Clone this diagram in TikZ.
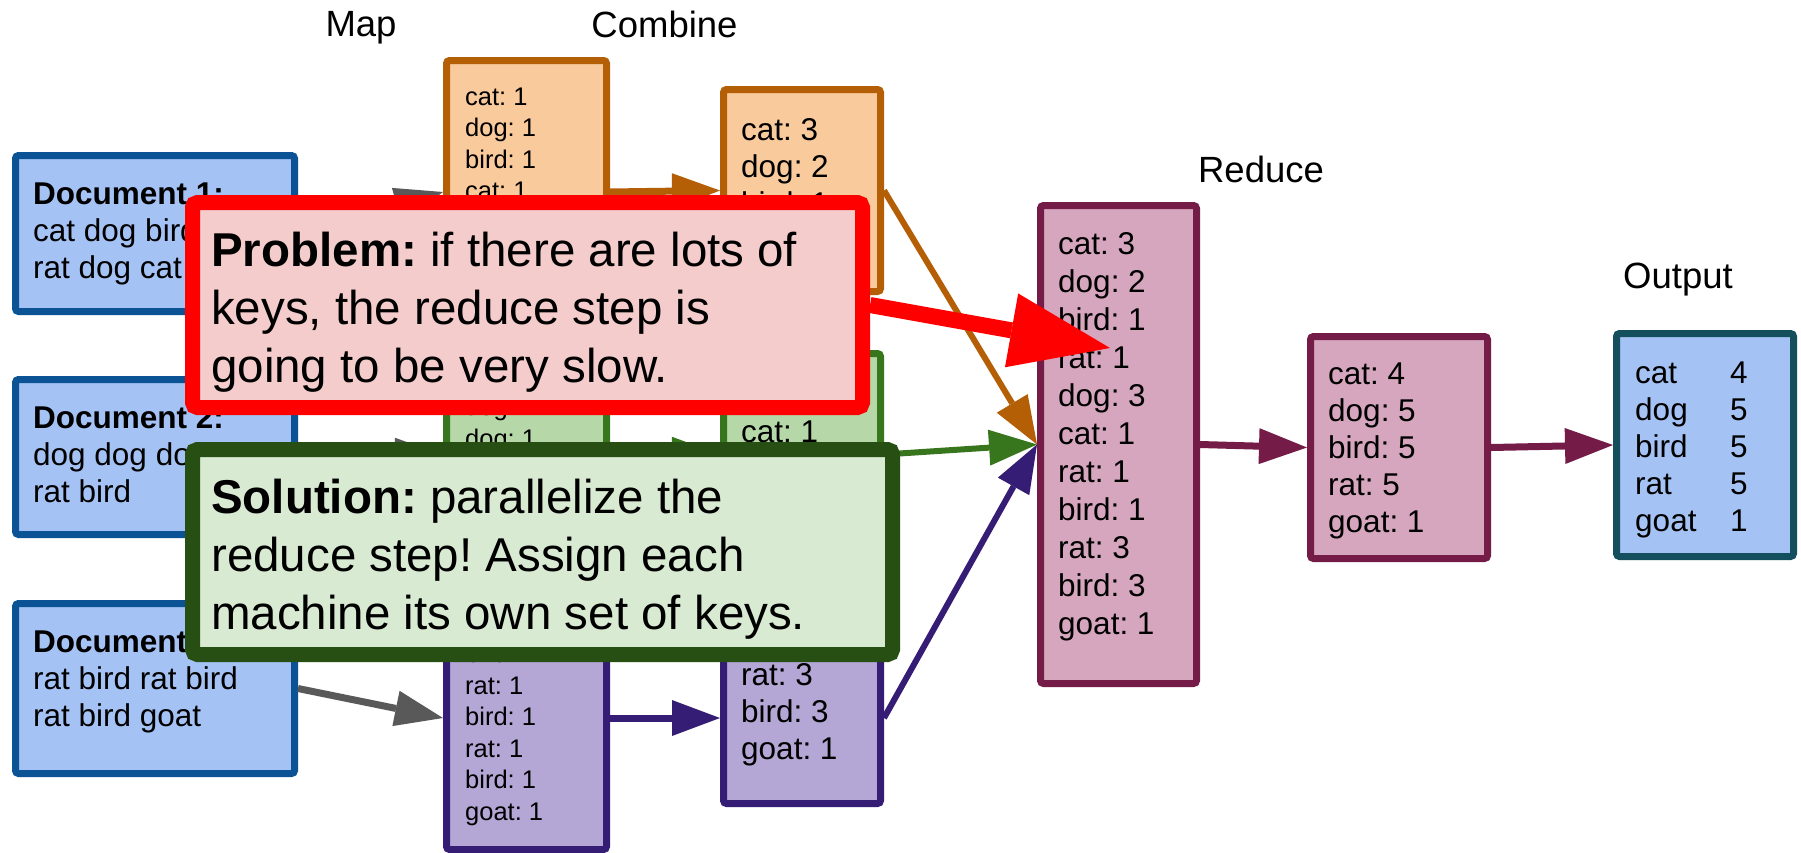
\documentclass[tikz,border=0pt]{standalone}
\usepackage{fontspec}
\setmainfont{Liberation Sans}
\usetikzlibrary{arrows.meta}
\definecolor{docF}{HTML}{A4C2F4}
\definecolor{docB}{HTML}{0B5394}
\definecolor{orF}{HTML}{F9CB9C}
\definecolor{orB}{HTML}{B45F06}
\definecolor{grF}{HTML}{B6D7A8}
\definecolor{grB}{HTML}{38761D}
\definecolor{puF}{HTML}{B4A7D6}
\definecolor{puB}{HTML}{351C75}
\definecolor{reF}{HTML}{D5A6BD}
\definecolor{reB}{HTML}{741B47}
\definecolor{ouB}{HTML}{134F5C}
\definecolor{grayA}{HTML}{595959}
\definecolor{prF}{HTML}{F4CCCC}
\definecolor{prB}{HTML}{FF0000}
\definecolor{soF}{HTML}{D9EAD3}
\definecolor{soB}{HTML}{274E13}
\newcommand\mylines[1]{\begin{tabular}[t]{@{}l@{}}#1\end{tabular}}
\newcommand\ocol[2]{\makebox[95pt][l]{#1}#2}
\frenchspacing
\begin{document}
\begin{tikzpicture}[x=1pt,y=-1pt,
  bx/.style={rectangle, line width=7pt, rounded corners=3pt, inner sep=0pt},
  popbox/.style={rectangle, line width=15pt, rounded corners=5pt, inner sep=0pt},
  hdr/.style={anchor=base, inner sep=0pt, font=\fontsize{36.5}{40}\selectfont},
  tl/.style={anchor=base west, inner sep=0pt, font=\fontsize{31.5}{37}\selectfont},
  tlr/.style={anchor=base west, inner sep=0pt, font=\fontsize{31.5}{38}\selectfont},
  tls/.style={anchor=base west, inner sep=0pt, font=\fontsize{25.5}{31.5}\selectfont},
  tlp/.style={anchor=base west, inner sep=0pt, font=\fontsize{47.5}{58}\selectfont},
  arr/.style={line width=7pt, -{Triangle[length=48pt,width=36pt,line width=0pt]}},
  arrt/.style={line width=6pt, -{Triangle[length=48pt,width=36pt,line width=0pt]}},
  arrbig/.style={line width=16pt, -{Triangle[length=100pt,width=75pt,line width=0pt]}}
]
\useasboundingbox (0,0) rectangle (1801,852);
\fill[white] (0,0) rectangle (1801,852);

% headers
\node[hdr] (hmap) at (361,36) {Map};
\node[hdr] (hcomb) at (664.5,37) {Combine};
\node[hdr] (hred) at (1261,182) {Reduce};
\node[hdr] (hout) at (1678,288) {Output};

% documents
\node[bx, draw=docB, fill=docF, minimum width=279pt, minimum height=156pt] (doc1) at (155,233.5) {};
\node[bx, draw=docB, fill=docF, minimum width=279pt, minimum height=155pt] (doc2) at (155,457) {};
\node[bx, draw=docB, fill=docF, minimum width=279pt, minimum height=170pt] (doc3) at (155,688.5) {};
\node[tl] (doc1t) at (33,204) {\mylines{\textbf{Document 1:}\\cat dog bird cat\\rat dog cat}};
\node[tl] (doc2t) at (33,428) {\mylines{\textbf{Document 2:}\\dog dog dog cat\\rat bird}};
\node[tl] (doc3t) at (33,652) {\mylines{\textbf{Document 3:}\\rat bird rat bird\\rat bird goat}};

% map boxes
\node[bx, draw=orB, fill=orF, minimum width=160pt, minimum height=263pt] (mapO) at (526.5,192) {};
\node[bx, draw=grB, fill=grF, minimum width=160pt, minimum height=231pt] (mapG) at (526.5,455) {};
\node[bx, draw=puB, fill=puF, minimum width=160pt, minimum height=263pt] (mapP) at (526.5,718) {};
\node[tls] (mapOt) at (465,105) {\mylines{cat: 1\\dog: 1\\bird: 1\\cat: 1\\rat: 1\\dog: 1\\cat: 1}};
\node[tls] (mapGt) at (465,384) {\mylines{dog: 1\\dog: 1\\dog: 1\\cat: 1\\rat: 1\\bird: 1}};
\node[tls] (mapPt) at (465,631) {\mylines{rat: 1\\bird: 1\\rat: 1\\bird: 1\\rat: 1\\bird: 1\\goat: 1}};

% combine boxes
\node[bx, draw=orB, fill=orF, minimum width=157pt, minimum height=202pt] (combO) at (802,190.5) {};
\node[bx, draw=grB, fill=grF, minimum width=157pt, minimum height=202pt] (combG) at (802,454.5) {};
\node[bx, draw=puB, fill=puF, minimum width=157pt, minimum height=171pt] (combP) at (802,718) {};
\node[tl] (combOt) at (741,140) {\mylines{cat: 3\\dog: 2\\bird: 1\\rat: 1}};
\node[tl] (combGt) at (741,405) {\mylines{dog: 3\\cat: 1\\rat: 1\\bird: 1}};
\node[tl] (combPt) at (741,685) {\mylines{rat: 3\\bird: 3\\goat: 1}};

% reduce
\node[bx, draw=reB, fill=reF, minimum width=156pt, minimum height=478pt] (reduce) at (1118.5,444.5) {};
\node[tlr] (reducet) at (1058,254) {\mylines{cat: 3\\dog: 2\\bird: 1\\rat: 1\\dog: 3\\cat: 1\\rat: 1\\bird: 1\\rat: 3\\bird: 3\\goat: 1}};
\node[bx, draw=reB, fill=reF, minimum width=177pt, minimum height=222pt] (red2) at (1399,447.5) {};
\node[tl] (red2t) at (1328,384) {\mylines{cat: 4\\dog: 5\\bird: 5\\rat: 5\\goat: 1}};

% output
\node[bx, draw=ouB, fill=docF, minimum width=177pt, minimum height=223pt] (out) at (1705,445) {};
\node[tl] (outt) at (1635,383) {\mylines{\ocol{cat}{4}\\\ocol{dog}{5}\\\ocol{bird}{5}\\\ocol{rat}{5}\\\ocol{goat}{1}}};

% arrows
\draw[arr, grayA] (doc1.east) -- (mapO.west);
\draw[arr, grayA] (doc2.east) -- (mapG.west);
\draw[arr, grayA] (doc3.east) -- (mapP.west);
\draw[arr, orB] (mapO.east) -- (combO.west);
\draw[arr, grB] (mapG.east) -- (combG.west);
\draw[arr, puB] (mapP.east) -- (combP.west);
\draw[arrt, orB] (combO.east) -- (reduce.west);
\draw[arrt, grB] (combG.east) -- (reduce.west);
\draw[arrt, puB] (combP.east) -- (reduce.west);
\draw[arr, reB] (reduce.east) -- (red2.west);
\draw[arr, reB] (red2.east) -- (out.west);

% popups
\node[popbox, draw=prB, fill=prF, minimum width=670pt, minimum height=205pt] (problem) at (527.5,305) {};
\node[tlp] (problemt) at (211,266) {\mylines{\textbf{Problem:} if there are lots of\\keys, the reduce step is\\going to be very slow.}};
\node[popbox, draw=soB, fill=soF, minimum width=700pt, minimum height=205pt] (solution) at (542.5,552) {};
\node[tlp] (solutiont) at (211,513) {\mylines{\textbf{Solution:} parallelize the\\reduce step! Assign each\\machine its own set of keys.}};

\coordinate (redtip) at (1110,348);
\draw[arrbig, prB] (problem.east) -- (redtip);
\end{tikzpicture}
\end{document}
